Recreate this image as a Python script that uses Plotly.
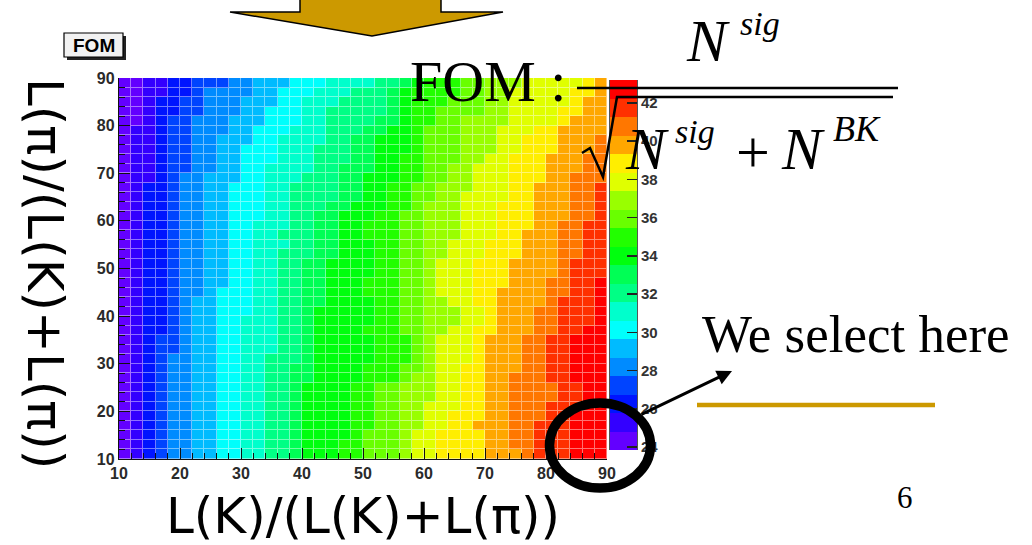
import plotly.graph_objects as go

W, H = 1032, 545

# FOM palette range and the 20 contour levels of the colour scale
FOM_MIN = 23.85
FOM_MAX = 43.2
N_LEVELS = 20
fom_ticks = [24, 26, 28, 30, 32, 34, 36, 38, 40, 42]
axis_ticks = [10, 20, 30, 40, 50, 60, 70, 80, 90]

# bin centres (%) of the two likelihood-ratio cuts, 40 bins of width 2
cut_k_bins = list(range(11, 90, 2))
cut_pi_bins = list(range(11, 90, 2))

# For every y-bin row (top row y=88-90 first) the first x-bin index at which
# each successive FOM contour level (1..19) starts; 40 = level not reached.
level_edges_top_down = [
    [2, 4, 6, 9, 11, 14, 17, 21, 23, 24, 25, 28, 30, 33, 38, 39, 40, 40, 40],
    [2, 4, 6, 7, 11, 13, 16, 19, 22, 23, 24, 28, 30, 32, 37, 39, 40, 40, 40],
    [2, 3, 5, 7, 10, 13, 15, 18, 22, 23, 24, 27, 30, 32, 37, 38, 40, 40, 40],
    [2, 3, 5, 7, 10, 12, 15, 17, 22, 23, 24, 26, 30, 32, 36, 38, 40, 40, 40],
    [2, 3, 4, 6, 9, 12, 15, 17, 21, 23, 24, 26, 28, 32, 36, 37, 40, 40, 40],
    [1, 3, 4, 6, 9, 11, 14, 17, 20, 22, 24, 25, 28, 31, 34, 36, 40, 40, 40],
    [1, 3, 4, 6, 8, 11, 13, 17, 19, 21, 24, 25, 28, 31, 33, 36, 39, 40, 40],
    [1, 3, 4, 6, 8, 10, 13, 16, 19, 21, 24, 25, 28, 31, 33, 36, 39, 40, 40],
    [1, 3, 4, 6, 8, 10, 13, 16, 19, 21, 23, 25, 28, 30, 32, 35, 38, 40, 40],
    [1, 3, 4, 6, 8, 10, 12, 16, 18, 21, 23, 25, 27, 29, 32, 35, 38, 40, 40],
    [1, 3, 4, 5, 7, 10, 12, 15, 18, 20, 23, 25, 27, 29, 32, 35, 37, 40, 40],
    [1, 2, 4, 5, 7, 9, 12, 14, 18, 20, 22, 24, 26, 29, 32, 34, 37, 39, 40],
    [1, 2, 4, 5, 7, 9, 12, 14, 18, 20, 22, 24, 26, 28, 32, 34, 37, 39, 40],
    [1, 2, 4, 5, 7, 9, 12, 14, 17, 19, 22, 24, 25, 28, 31, 34, 37, 39, 40],
    [1, 2, 4, 5, 7, 9, 12, 14, 16, 18, 21, 23, 25, 28, 31, 34, 37, 39, 40],
    [1, 2, 4, 5, 7, 9, 11, 14, 16, 18, 20, 23, 25, 28, 31, 34, 36, 38, 40],
    [1, 2, 4, 5, 7, 9, 11, 13, 16, 18, 20, 23, 25, 28, 31, 33, 36, 38, 40],
    [1, 2, 4, 5, 7, 9, 11, 14, 16, 18, 21, 23, 25, 27, 30, 33, 36, 38, 40],
    [1, 2, 4, 5, 7, 9, 11, 13, 16, 18, 21, 23, 25, 27, 30, 33, 36, 38, 40],
    [1, 2, 4, 5, 7, 9, 11, 13, 15, 17, 21, 23, 25, 26, 29, 32, 36, 37, 40],
    [1, 2, 4, 5, 7, 9, 11, 13, 15, 17, 21, 23, 25, 26, 29, 32, 36, 37, 40],
    [1, 2, 4, 5, 7, 9, 11, 13, 15, 17, 20, 23, 25, 26, 29, 32, 35, 37, 39],
    [1, 2, 4, 5, 7, 8, 11, 13, 15, 17, 20, 23, 25, 26, 29, 31, 35, 37, 39],
    [1, 2, 4, 5, 6, 8, 11, 13, 15, 17, 21, 23, 25, 27, 29, 31, 35, 36, 39],
    [1, 2, 4, 5, 6, 8, 11, 13, 15, 16, 21, 23, 25, 28, 30, 31, 34, 36, 39],
    [1, 2, 4, 5, 6, 8, 10, 13, 15, 16, 21, 23, 25, 28, 30, 31, 34, 36, 39],
    [1, 2, 4, 5, 6, 8, 10, 13, 15, 16, 20, 23, 25, 27, 29, 31, 34, 36, 38],
    [1, 2, 3, 5, 6, 8, 10, 13, 15, 16, 21, 24, 25, 26, 29, 30, 33, 35, 37],
    [1, 2, 3, 5, 6, 8, 10, 13, 15, 16, 21, 24, 25, 26, 29, 30, 33, 35, 37],
    [1, 2, 3, 4, 6, 8, 10, 12, 15, 16, 21, 24, 25, 26, 29, 30, 33, 35, 37],
    [1, 2, 3, 4, 6, 8, 10, 12, 14, 16, 20, 23, 25, 26, 28, 30, 33, 35, 37],
    [1, 2, 3, 4, 6, 8, 10, 12, 14, 16, 20, 23, 24, 26, 28, 30, 32, 35, 37],
    [1, 2, 3, 4, 6, 8, 10, 12, 14, 15, 19, 21, 23, 26, 28, 30, 32, 36, 38],
    [1, 2, 3, 4, 6, 8, 10, 12, 14, 15, 19, 21, 23, 26, 28, 30, 32, 36, 38],
    [1, 2, 3, 4, 6, 8, 10, 12, 14, 15, 19, 21, 23, 25, 28, 30, 32, 35, 38],
    [1, 2, 3, 4, 6, 8, 10, 12, 14, 15, 19, 21, 23, 25, 27, 30, 32, 35, 37],
    [1, 2, 3, 4, 6, 8, 10, 12, 14, 15, 19, 21, 23, 25, 27, 29, 32, 34, 37],
    [1, 2, 3, 4, 6, 8, 10, 12, 14, 15, 19, 20, 23, 24, 26, 30, 32, 34, 37],
    [1, 2, 3, 4, 6, 8, 10, 12, 14, 15, 18, 20, 23, 24, 26, 30, 32, 34, 37],
    [1, 2, 3, 4, 6, 8, 10, 12, 14, 15, 18, 20, 23, 24, 26, 30, 33, 34, 37],
]

# ROOT "pretty" palette, one colour per contour level (violet -> red)
level_colors = [
    "#6300ff", "#3300ff", "#0014ff", "#0044ff", "#008bff",
    "#00bbff", "#00fffc", "#00ffcc", "#00ff85", "#00ff55",
    "#00ff0e", "#22ff00", "#69ff00", "#99ff00", "#e0ff00",
    "#ffee00", "#ffa700", "#ff7700", "#ff3000", "#ff0000",
]

SERIF = "Liberation Serif"
SANS = "Liberation Sans"
ROUND_SANS = "DejaVu Sans"
GOLD = "#cc9900"


def px(x):
    return x / W


def py(y):
    return 1 - y / H


def lighten(hexc, f):
    r, g, b = (int(hexc[i:i + 2], 16) for i in (1, 3, 5))
    return "rgb(%d,%d,%d)" % (r + (255 - r) * f, g + (255 - g) * f, b + (255 - b) * f)


def stepped_scale(colors):
    n = len(colors)
    scale = []
    for k, c in enumerate(colors):
        scale.append([k / n, c])
        scale.append([(k + 1) / n, c])
    return scale


# FOM value of every cell = centre of its contour level
step = (FOM_MAX - FOM_MIN) / N_LEVELS
level_centres = [round(FOM_MIN + (k + 0.5) * step, 3) for k in range(N_LEVELS)]
fom = []
for edges in reversed(level_edges_top_down):
    row = []
    for col in range(len(cut_k_bins)):
        level = sum(1 for e in edges if e <= col)
        row.append(level_centres[level])
    fom.append(row)

fig = go.Figure()

# pale underlay: shows through the 1px gaps as the light cell borders
fig.add_trace(go.Heatmap(
    x=cut_k_bins, y=cut_pi_bins, z=fom, zmin=FOM_MIN, zmax=FOM_MAX,
    colorscale=stepped_scale([lighten(c, 0.45) for c in level_colors]),
    showscale=False, hoverinfo="skip",
))
fig.add_trace(go.Heatmap(
    x=cut_k_bins, y=cut_pi_bins, z=fom, zmin=FOM_MIN, zmax=FOM_MAX,
    colorscale=stepped_scale(level_colors), xgap=1, ygap=1,
    showscale=False, hoverinfo="skip",
))
# palette strip (z axis) drawn as its own one-column heatmap
fig.add_trace(go.Heatmap(
    x0=0.5, dx=1, y=level_centres, z=[[c] for c in level_centres],
    zmin=FOM_MIN, zmax=FOM_MAX, colorscale=stepped_scale(level_colors),
    showscale=False, hoverinfo="skip", xaxis="x2", yaxis="y2",
))

tick_font = dict(family=SANS, size=16, color="#2a2a2a", weight="bold")
axis_common = dict(
    range=[10, 90], tickmode="array", tickvals=axis_ticks,
    ticks="inside", ticklen=11, tickwidth=1, tickcolor="#111",
    minor=dict(dtick=2, tick0=10, ticks="inside", ticklen=6, tickcolor="#111", tickwidth=1),
    showline=True, linecolor="#111", linewidth=1.2,
    showgrid=False, zeroline=False, layer="above traces",
    tickfont=tick_font, fixedrange=True, automargin=False,
)

shapes = [
    # big gold arrow pointing down at the plot
    dict(type="path", xref="paper", yref="paper",
         path="M %f,%f L %f,%f L %f,%f L %f,%f L %f,%f L %f,%f L %f,%f Z" % (
             px(300), py(-6), px(300), py(12), px(230), py(12), px(372), py(36),
             px(503), py(12), px(441), py(12), px(441), py(-6)),
         fillcolor=GOLD, line=dict(color="black", width=1.5), layer="above"),
    # histogram title box with its shadow
    dict(type="rect", xref="paper", yref="paper",
         x0=px(67), x1=px(126), y0=py(60), y1=py(36),
         fillcolor="#222", line=dict(width=0), layer="above"),
    dict(type="rect", xref="paper", yref="paper",
         x0=px(64), x1=px(123), y0=py(57), y1=py(33),
         fillcolor="#f2f2f2", line=dict(color="black", width=1.2), layer="above"),
    # fraction bar and square-root sign of the FOM formula
    dict(type="line", xref="paper", yref="paper",
         x0=px(577), x1=px(898), y0=py(88), y1=py(88),
         line=dict(color="black", width=2.5), layer="above"),
    dict(type="path", xref="paper", yref="paper",
         path="M %f,%f L %f,%f L %f,%f L %f,%f L %f,%f" % (
             px(582), py(153), px(590), py(148), px(603), py(177),
             px(617), py(97), px(893), py(97)),
         line=dict(color="black", width=2.5), layer="above"),
    # gold rule under the comment
    dict(type="line", xref="paper", yref="paper",
         x0=px(697), x1=px(935), y0=py(405), y1=py(405),
         line=dict(color=GOLD, width=4.5), layer="above"),
    # ring around the selected corner
    dict(type="circle", xref="paper", yref="paper",
         x0=px(549.5), x1=px(650.5), y0=py(488), y1=py(403),
         line=dict(color="black", width=9.5), layer="above"),
]


def label(x, y, s, size, family=SERIF, style="normal", xanchor="left",
          color="black", weight="normal", **kw):
    return dict(x=px(x), y=py(y), xref="paper", yref="paper", text=s,
                showarrow=False, xanchor=xanchor, yanchor="middle",
                font=dict(family=family, size=size, color=color,
                          style=style, weight=weight), **kw)


annotations = [
    label(94, 45.5, "FOM", 19, family=SANS, xanchor="center", weight="bold"),
    label(408, 81.5, "FOM :", 58),
    label(684, 41, "N", 60, style="italic"),
    label(738, 23.5, "sig", 34, style="italic"),
    label(623, 148.5, "N", 60, style="italic"),
    label(673, 131.5, "sig", 34, style="italic"),
    label(734, 152, "+", 60),
    label(779, 148.5, "N", 60, style="italic"),
    label(831, 128.5, "BK", 36, style="italic"),
    label(700, 334, "We select here", 53),
    label(905, 497.5, "6", 31, xanchor="center"),
    label(363, 516, "L(K)/(L(K)+L(π))", 50, family=ROUND_SANS, xanchor="center"),
    label(45, 273, "L(π)/(L(K)+L(π))", 50, family=ROUND_SANS, xanchor="center",
          textangle=90),
    dict(x=px(732), y=py(371), xref="paper", yref="paper", text="",
         showarrow=True, ax=-92, ay=44, axref="pixel", ayref="pixel",
         arrowhead=2, arrowsize=1, arrowwidth=3, arrowcolor="black",
         standoff=0, startstandoff=0),
]

fig.update_layout(
    width=W, height=H, autosize=False,
    margin=dict(l=0, r=0, t=0, b=0, pad=0, autoexpand=False),
    paper_bgcolor="white", plot_bgcolor="white",
    xaxis=dict(domain=[px(119), px(607)], **axis_common),
    yaxis=dict(domain=[py(459), py(78)], **axis_common),
    xaxis2=dict(domain=[px(610), px(637)], range=[0, 1], anchor="y2",
                visible=False, fixedrange=True),
    yaxis2=dict(domain=[py(450), py(80)], range=[FOM_MIN, FOM_MAX], anchor="x2",
                side="right", tickmode="array", tickvals=fom_ticks,
                ticks="inside", ticklen=10, tickwidth=1.5, tickcolor="#222",
                showline=True, mirror=True, linecolor="#555", linewidth=1,
                showgrid=False, zeroline=False, layer="above traces",
                tickfont=dict(family=SANS, size=15, color="#333", weight="bold"),
                fixedrange=True, automargin=False),
    shapes=shapes, annotations=annotations,
    showlegend=False,
)

fig.write_html("out.html", config={"displayModeBar": False, "staticPlot": True})
